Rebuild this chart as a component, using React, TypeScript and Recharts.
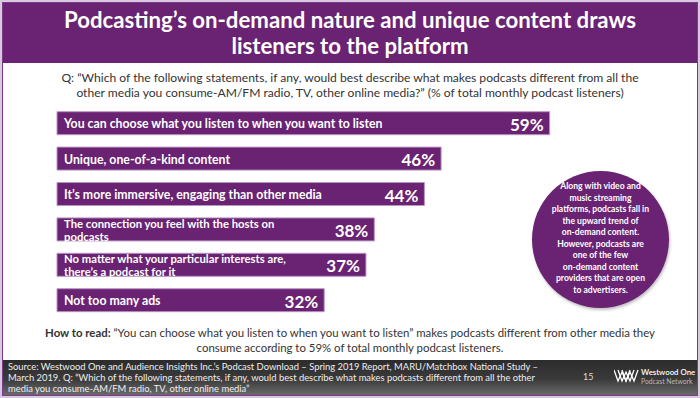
import React from 'react';
import { BarChart, Bar, XAxis, YAxis, LabelList } from 'recharts';

const titleLines = [
  "Podcasting\u2019s on-demand nature and unique content draws",
  'listeners to the platform',
];
const questionLines = [
  'Q: \u201cWhich of the following statements, if any, would best describe what makes podcasts different from all the',
  'other media you consume-AM/FM radio, TV, other online media?\u201d (% of total monthly podcast listeners)',
];
const categories = [
  ['You can choose what you listen to when you want to listen'],
  ['Unique, one-of-a-kind content'],
  ['It\u2019s more immersive, engaging than other media'],
  ['The connection you feel with the hosts on', 'podcasts'],
  ['No matter what your particular interests are,', 'there\u2019s a podcast for it'],
  ['Not too many ads'],
];
const values = [59, 46, 44, 38, 37, 32];
const circleLines = [
  'Along with video and',
  'music streaming',
  'platforms, podcasts fall in',
  'the upward trend of',
  'on-demand content.',
  'However, podcasts are',
  'one of the few',
  'on-demand content',
  'providers that are open',
  'to advertisers.',
];
const howToReadLines = [
  '\u201cYou can choose what you listen to when you want to listen\u201d makes podcasts different from other media they',
  'consume according to 59% of total monthly podcast listeners.',
];
const sourceLines = [
  'Source: Westwood One and Audience Insights Inc.\u2019s Podcast Download \u2013 Spring 2019 Report, MARU/Matchbox National Study \u2013',
  'March 2019. Q: \u201cWhich of the following statements, if any, would best describe what makes podcasts different from all the other',
  'media you consume-AM/FM radio, TV, other online media\u201d',
];

const rows = values.map((v, i) => ({ label: categories[i].join(' '), value: v }));

const PURPLE = '#6a2273';
const FONT = 'Lato, "DejaVu Sans", sans-serif';

const renderCat = (props: any) => {
  const { x, y, height, index } = props;
  const lines = categories[index];
  const cy = y + height / 2;
  const lh = 13.2;
  const start = cy - ((lines.length - 1) * lh) / 2;
  return (
    <text x={x + 7} y={start} fill="#fff" fontFamily={FONT} fontWeight={700} fontSize={lines.length > 1 ? 11.3 : 12.3} dominantBaseline="central">
      {lines.map((l: string, i: number) => (
        <tspan key={i} x={x + 7} y={start + i * lh} dominantBaseline="central">{l}</tspan>
      ))}
    </text>
  );
};

const renderVal = (props: any) => {
  const { x, y, width, height, value } = props;
  return (
    <text x={x + width - 6} y={y + height / 2 + 1} fill="#fff" fontFamily={FONT} fontWeight={700} fontSize={17} textAnchor="end" dominantBaseline="central">
      {value}%
    </text>
  );
};

export default function App() {
  return (
    <div style={{ position: 'fixed', left: 0, top: 0, width: 700, height: 398, background: '#d9c9e0', overflow: 'hidden', fontFamily: FONT }}>
      <div style={{ position: 'absolute', left: 2, top: 2, width: 696, height: 394, boxSizing: 'border-box', border: '1.5px solid #7b3d89', background: '#fff' }} />
      {/* title band */}
      <div style={{ position: 'absolute', left: 3, top: 3, width: 694, height: 60, background: PURPLE }} />
      <div style={{ position: 'absolute', left: 0, top: 7, width: 700, textAlign: 'center', color: '#fff', fontWeight: 700, fontSize: 22.2, lineHeight: '26px', whiteSpace: 'nowrap' }}>
        {titleLines.map((l, i) => <div key={i}>{l}</div>)}
      </div>
      <div style={{ position: 'absolute', left: 0, top: 70, width: 700, textAlign: 'center', color: '#333', fontSize: 12.1, lineHeight: '15px', whiteSpace: 'nowrap' }}>
        {questionLines.map((l, i) => <div key={i}>{l}</div>)}
      </div>
      {/* circle */}
      <div style={{ position: 'absolute', left: 532, top: 171, width: 137, height: 137, borderRadius: '50%', background: PURPLE, boxShadow: '1px 2px 3px rgba(0,0,0,0.25)' }} />
      <div style={{ position: 'absolute', left: 530, top: 181, width: 141, textAlign: 'center', color: '#fff', fontWeight: 700, fontSize: 8.6, lineHeight: '11.5px', whiteSpace: 'nowrap' }}>
        {circleLines.map((l, i) => <div key={i}>{l}</div>)}
      </div>
      {/* how to read */}
      <div style={{ position: 'absolute', left: 0, top: 325, width: 700, textAlign: 'center', color: '#333', fontSize: 11.4, lineHeight: '15px', whiteSpace: 'nowrap' }}>
        <div><span style={{ fontWeight: 700 }}>How to read: </span>{howToReadLines[0]}</div>
        <div>{howToReadLines[1]}</div>
      </div>
      {/* footer */}
      <div style={{ position: 'absolute', left: 3, top: 360, width: 694, height: 35, background: 'linear-gradient(#2c2c2c, #3a3a3a 55%, #6a6a6a)' }} />
      <div style={{ position: 'absolute', left: 8, top: 361, color: '#eee', fontSize: 9.4, lineHeight: '11px', whiteSpace: 'nowrap' }}>
        {sourceLines.map((l, i) => <div key={i}>{l}</div>)}
      </div>
      <div style={{ position: 'absolute', left: 583, top: 371, color: '#ddd', fontSize: 9 }}>15</div>
      <svg style={{ position: 'absolute', left: 614, top: 369 }} width={26} height={14}>
        {[0, 4, 8].map((d, i) => (
          <polyline key={i} points={`${d},1 ${d + 4},12 ${d + 8},3 ${d + 12},12 ${d + 16},1`} fill="none" stroke="#fff" strokeWidth={1.3} />
        ))}
      </svg>
      <div style={{ position: 'absolute', left: 641, top: 368, color: '#fff', fontSize: 7.8, lineHeight: '9px', fontWeight: 600, whiteSpace: 'nowrap' }}>Westwood One</div>
      <div style={{ position: 'absolute', left: 641, top: 377, color: '#bbb', fontSize: 6.8, lineHeight: '8px', whiteSpace: 'nowrap' }}>Podcast Network</div>
      {/* chart */}
      <div style={{ position: 'absolute', left: 0, top: 0 }}>
        <BarChart width={700} height={398} layout="vertical" data={rows} margin={{ top: 105.7, right: 142, bottom: 79.9, left: 57 }} barSize={23}>
          <XAxis type="number" domain={[0, 60]} hide />
          <YAxis type="category" dataKey="label" hide width={0} />
          <Bar dataKey="value" fill={PURPLE} stroke="#b995c2" strokeWidth={1} isAnimationActive={false}>
            <LabelList dataKey="label" content={renderCat} />
            <LabelList dataKey="value" content={renderVal} />
          </Bar>
        </BarChart>
      </div>
    </div>
  );
}
